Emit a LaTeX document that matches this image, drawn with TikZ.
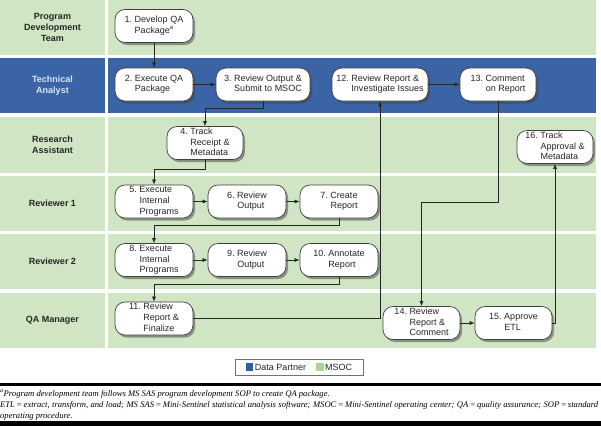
\documentclass[tikz,border=0pt]{standalone}
\usepackage{fontspec}
\setmainfont{Liberation Sans}
\newfontfamily\fnfont{Liberation Serif}
\usetikzlibrary{shadows,arrows.meta}
\definecolor{lanegreen}{HTML}{CFE5C3}
\definecolor{laneblue}{HTML}{3A64A6}
\definecolor{lbltxt}{HTML}{D8E5F4}
\definecolor{legendgreen}{HTML}{A9D59B}
\definecolor{legendblue}{HTML}{2F5DA8}
\newcommand\stp[2]{\begin{tabular}{@{}l@{\ }l@{}}#1&#2\end{tabular}}
\begin{document}
\begin{tikzpicture}[x=1pt,y=-1pt,
  lanelabel/.style={font=\bfseries\fontsize{9}{11}\selectfont, align=center, text=black!85},
  stepbox/.style={draw=black!75, line width=0.7pt, fill=white, rounded corners=10pt,
    inner sep=0pt, font=\fontsize{9}{10.7}\selectfont, text=black!85, align=center,
    minimum height=33,
    drop shadow={shadow xshift=2pt, shadow yshift=-2.5pt, opacity=0.5, fill=black!75}},
  conn/.style={draw=black!85, line width=0.6pt, -{Latex[length=5pt,width=4pt]}},
  fn/.style={font=\fnfont\itshape\fontsize{8.6}{10.5}\selectfont, inner sep=0pt, anchor=base west}
]
\useasboundingbox (0,0) rectangle (601,426);
% lanes
\fill[lanegreen] (0,0) rectangle (105,55);
\fill[lanegreen] (107.5,0) rectangle (596,55);
\fill[laneblue] (0,58) rectangle (105,113);
\fill[laneblue] (107.5,58) rectangle (596,113);
\fill[lanegreen] (0,116.5) rectangle (105,173);
\fill[lanegreen] (107.5,116.5) rectangle (596,173);
\fill[lanegreen] (0,175.5) rectangle (105,231);
\fill[lanegreen] (107.5,175.5) rectangle (596,231);
\fill[lanegreen] (0,234) rectangle (105,289);
\fill[lanegreen] (107.5,234) rectangle (596,289);
\fill[lanegreen] (0,292.5) rectangle (105,348);
\fill[lanegreen] (107.5,292.5) rectangle (596,348);
% lane labels
\node[lanelabel] (l1) at (52.5,27.5) {Program\\Development\\Team};
\node[lanelabel, text=lbltxt] (l2) at (52.5,85.5) {Technical\\Analyst};
\node[lanelabel] (l3) at (52.5,145) {Research\\Assistant};
\node[lanelabel] (l4) at (52.5,203) {Reviewer 1};
\node[lanelabel] (l5) at (52.5,261.5) {Reviewer 2};
\node[lanelabel] (l6) at (52.5,320) {QA Manager};
% steps
\node[stepbox, minimum width=78] (b1) at (154,26) {\stp{1.}{Develop QA\\&Package\textsuperscript{a}}};
\node[stepbox, minimum width=78] (b2) at (154,84.5) {\stp{2.}{Execute QA\\&Package}};
\node[stepbox, minimum width=94] (b3) at (263,84.5) {\stp{3.}{Review Output \&\\&Submit to MSOC}};
\node[stepbox, minimum width=76] (b4) at (205,143) {\stp{4.}{Track\\&Receipt \&\\&Metadata}};
\node[stepbox, minimum width=78] (b5) at (154,201.5) {\stp{5.}{Execute\\&Internal\\&Programs}};
\node[stepbox, minimum width=78] (b6) at (247,201.5) {\stp{6.}{Review\\&Output}};
\node[stepbox, minimum width=78] (b7) at (339,201.5) {\stp{7.}{Create\\&Report}};
\node[stepbox, minimum width=78] (b8) at (154,260) {\stp{8.}{Execute\\&Internal\\&Programs}};
\node[stepbox, minimum width=78] (b9) at (247,260) {\stp{9.}{Review\\&Output}};
\node[stepbox, minimum width=78] (b10) at (339,260) {\stp{10.}{Annotate\\&Report}};
\node[stepbox, minimum width=78] (b11) at (154,318.5) {\stp{11.}{Review\\&Report \&\\&Finalize}};
\node[stepbox, minimum width=96] (b12) at (380,84.5) {\stp{12.}{Review Report \&\\&Investigate Issues}};
\node[stepbox, minimum width=76] (b13) at (498,84.5) {\stp{13.}{Comment\\&on Report}};
\node[stepbox, minimum width=77] (b14) at (421.5,323) {\stp{14.}{Review\\&Report \&\\&Comment}};
\node[stepbox, minimum width=77] (b15) at (513.5,323) {\stp{15.}{Approve\\&ETL}};
\node[stepbox, minimum width=76] (b16) at (555,147) {\stp{16.}{Track\\&Approval \&\\&Metadata}};
% connectors
\draw[conn] (b1) -- (b2);
\draw[conn] (b2) -- (b3);
\draw[conn] (b3.south) -- ++(0,7) -| (b4.north);
\draw[conn] (b4.south) -- ++(0,9) -| (b5.north);
\draw[conn] (b5) -- (b6);
\draw[conn] (b6) -- (b7);
\draw[conn] (b7.south) -- ++(0,7) -| (b8.north);
\draw[conn] (b8) -- (b9);
\draw[conn] (b9) -- (b10);
\draw[conn] (b10.south) -- ++(0,7) -| (b11.north);
\draw[conn] (b11.east) -| (b12.south);
\draw[conn] (b12) -- (b13);
\draw[conn] (b13.south) -- ++(0,101) -| (b14.north);
\draw[conn] (b14) -- (b15);
\draw[conn] (b15.east) -| (b16.south);
% legend
\node[draw=black!55, line width=0.5pt, fill=white, minimum width=128, minimum height=16, inner sep=0pt,
  font=\fontsize{9}{10}\selectfont, text=black!85] (legend) at (299,367)
  {\textcolor{legendblue}{\rule{7.5pt}{7.5pt}}\,Data Partner\hspace{10pt}\textcolor{legendgreen}{\rule{7.5pt}{7.5pt}}\,MSOC};
% rules and footnotes
\fill[black] (0,383) rectangle (601,385.5);
\fill[black] (0,421) rectangle (601,426);
\node[fn] (f1) at (0,396.5) {\textsuperscript{a}Program development team follows MS SAS program development SOP to create QA package.};
\node[fn] (f2) at (0,407.5) {\makebox[598pt][s]{ETL\,=\,extract, transform, and load; MS SAS\,=\,Mini-Sentinel statistical analysis software; MSOC\,=\,Mini-Sentinel operating center; QA\,=\,quality assurance; SOP\,=\,standard}};
\node[fn] (f3) at (0,418) {operating procedure.};
\end{tikzpicture}
\end{document}
